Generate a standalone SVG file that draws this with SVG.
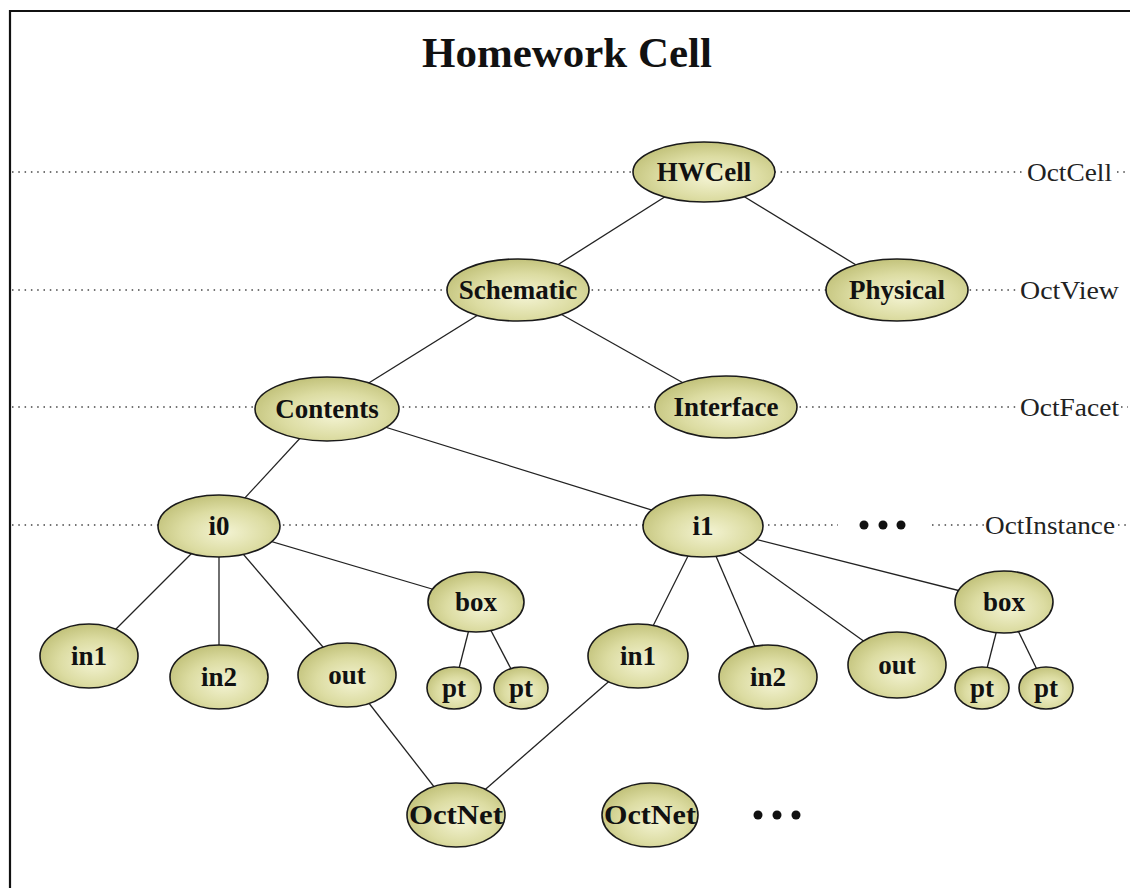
<svg xmlns="http://www.w3.org/2000/svg" width="1130" height="888" viewBox="0 0 1130 888">
  <defs>
    <radialGradient id="nodeFill" cx="55%" cy="60%" r="60%">
      <stop offset="0" stop-color="#f3f3d2"/>
      <stop offset="0.6" stop-color="#dcdca2"/>
      <stop offset="1" stop-color="#c3c37c"/>
    </radialGradient>
    <style>
      .node ellipse { fill: url(#nodeFill); stroke: #1a1a1a; stroke-width: 1.6; }
      .node text { font-family: "Liberation Serif", "Times New Roman", serif; font-weight: bold; font-size: 27px; fill: #111; text-anchor: middle; }
      .edges line { stroke: #222; stroke-width: 1.3; }
      .level line { stroke: #444; stroke-width: 1.4; stroke-dasharray: 1.5 4.8; }
      .level text { font-family: "Liberation Serif", "Times New Roman", serif; font-size: 26px; fill: #222; }
      .more circle { fill: #111; }
    </style>
  </defs>
  <rect width="1130" height="888" fill="#ffffff"/>

  <!-- frame -->
  <path d="M10,888 V11 H1130" fill="none" stroke="#111" stroke-width="2.2"/>

  <!-- title -->
  <text x="567" y="67" font-family="Liberation Serif, Times New Roman, serif" font-weight="bold" font-size="43" text-anchor="middle" fill="#111" textLength="290" lengthAdjust="spacingAndGlyphs">Homework Cell</text>

  <!-- level guides -->
  <g class="level" id="levels">
    <line x1="12" y1="172" x2="1022" y2="172"/>
    <text x="1027" y="181" textLength="85" lengthAdjust="spacingAndGlyphs">OctCell</text>
    <line x1="1117" y1="172" x2="1128" y2="172"/>
    <line x1="12" y1="290" x2="1016" y2="290"/>
    <text x="1020" y="299" textLength="99" lengthAdjust="spacingAndGlyphs">OctView</text>
    <line x1="12" y1="407" x2="1016" y2="407"/>
    <text x="1020" y="416" textLength="99" lengthAdjust="spacingAndGlyphs">OctFacet</text>
    <line x1="1121" y1="407" x2="1128" y2="407"/>
    <line x1="12" y1="525" x2="838" y2="525"/>
    <line x1="932" y1="525" x2="984" y2="525"/>
    <text x="985" y="534" textLength="130" lengthAdjust="spacingAndGlyphs">OctInstance</text>
    <line x1="1118" y1="525" x2="1128" y2="525"/>
  </g>

  <!-- connectors -->
  <g class="edges" id="connectors">
    <line x1="704" y1="172" x2="518" y2="290"/>
    <line x1="704" y1="172" x2="897" y2="290"/>
    <line x1="518" y1="290" x2="327" y2="409"/>
    <line x1="518" y1="290" x2="726" y2="407"/>
    <line x1="327" y1="409" x2="219" y2="526"/>
    <line x1="327" y1="409" x2="703" y2="526"/>
    <line x1="219" y1="526" x2="89" y2="656"/>
    <line x1="219" y1="526" x2="219" y2="677"/>
    <line x1="219" y1="526" x2="347" y2="675"/>
    <line x1="219" y1="526" x2="476" y2="602"/>
    <line x1="476" y1="602" x2="454" y2="688"/>
    <line x1="476" y1="602" x2="521" y2="688"/>
    <line x1="703" y1="526" x2="638" y2="656"/>
    <line x1="703" y1="526" x2="768" y2="677"/>
    <line x1="703" y1="526" x2="897" y2="665"/>
    <line x1="703" y1="526" x2="1004" y2="602"/>
    <line x1="1004" y1="602" x2="982" y2="688"/>
    <line x1="1004" y1="602" x2="1046" y2="688"/>
    <line x1="347" y1="675" x2="456" y2="815"/>
    <line x1="638" y1="656" x2="456" y2="815"/>
  </g>

  <!-- nodes -->
  <g class="node" id="hwcell"><ellipse cx="704" cy="172" rx="71" ry="30"/><text x="704" y="181">HWCell</text></g>
  <g class="node" id="schematic"><ellipse cx="518" cy="290" rx="71" ry="31"/><text x="518" y="299">Schematic</text></g>
  <g class="node" id="physical"><ellipse cx="897" cy="290" rx="71" ry="31"/><text x="897" y="299">Physical</text></g>
  <g class="node" id="contents"><ellipse cx="327" cy="409" rx="72" ry="32"/><text x="327" y="418">Contents</text></g>
  <g class="node" id="interface"><ellipse cx="726" cy="407" rx="71" ry="31"/><text x="726" y="416">Interface</text></g>
  <g class="node" id="i0"><ellipse cx="219" cy="526" rx="61" ry="31"/><text x="219" y="535">i0</text></g>
  <g class="node" id="i1"><ellipse cx="703" cy="526" rx="60" ry="31"/><text x="703" y="535">i1</text></g>
  <g class="node" id="i0-in1"><ellipse cx="89" cy="656" rx="49" ry="32"/><text x="89" y="665">in1</text></g>
  <g class="node" id="i0-in2"><ellipse cx="219" cy="677" rx="49" ry="32"/><text x="219" y="686">in2</text></g>
  <g class="node" id="i0-out"><ellipse cx="347" cy="675" rx="49" ry="32"/><text x="347" y="684">out</text></g>
  <g class="node" id="i0-box"><ellipse cx="476" cy="602" rx="48" ry="30"/><text x="476" y="611">box</text></g>
  <g class="node" id="i0-pt1"><ellipse cx="454" cy="688" rx="27" ry="21"/><text x="454" y="697">pt</text></g>
  <g class="node" id="i0-pt2"><ellipse cx="521" cy="688" rx="27" ry="21"/><text x="521" y="697">pt</text></g>
  <g class="node" id="i1-in1"><ellipse cx="638" cy="656" rx="50" ry="32"/><text x="638" y="665">in1</text></g>
  <g class="node" id="i1-in2"><ellipse cx="768" cy="677" rx="49" ry="32"/><text x="768" y="686">in2</text></g>
  <g class="node" id="i1-out"><ellipse cx="897" cy="665" rx="49" ry="33"/><text x="897" y="674">out</text></g>
  <g class="node" id="i1-box"><ellipse cx="1004" cy="602" rx="49" ry="31"/><text x="1004" y="611">box</text></g>
  <g class="node" id="i1-pt1"><ellipse cx="982" cy="688" rx="27" ry="21"/><text x="982" y="697">pt</text></g>
  <g class="node" id="i1-pt2"><ellipse cx="1046" cy="688" rx="27" ry="21"/><text x="1046" y="697">pt</text></g>
  <g class="node" id="net1"><ellipse cx="456" cy="815" rx="49" ry="32"/><text x="456" y="824" textLength="94" lengthAdjust="spacingAndGlyphs">OctNet</text></g>
  <g class="node" id="net2"><ellipse cx="650" cy="815" rx="48" ry="32"/><text x="650" y="824" textLength="92" lengthAdjust="spacingAndGlyphs">OctNet</text></g>

  <!-- ellipsis marks -->
  <g class="more" id="more-instances">
    <circle cx="864" cy="525" r="4.5"/><circle cx="883" cy="525" r="4.5"/><circle cx="901" cy="525" r="4.5"/>
  </g>
  <g class="more" id="more-nets">
    <circle cx="758" cy="815" r="4.5"/><circle cx="777" cy="815" r="4.5"/><circle cx="796" cy="815" r="4.5"/>
  </g>
</svg>
